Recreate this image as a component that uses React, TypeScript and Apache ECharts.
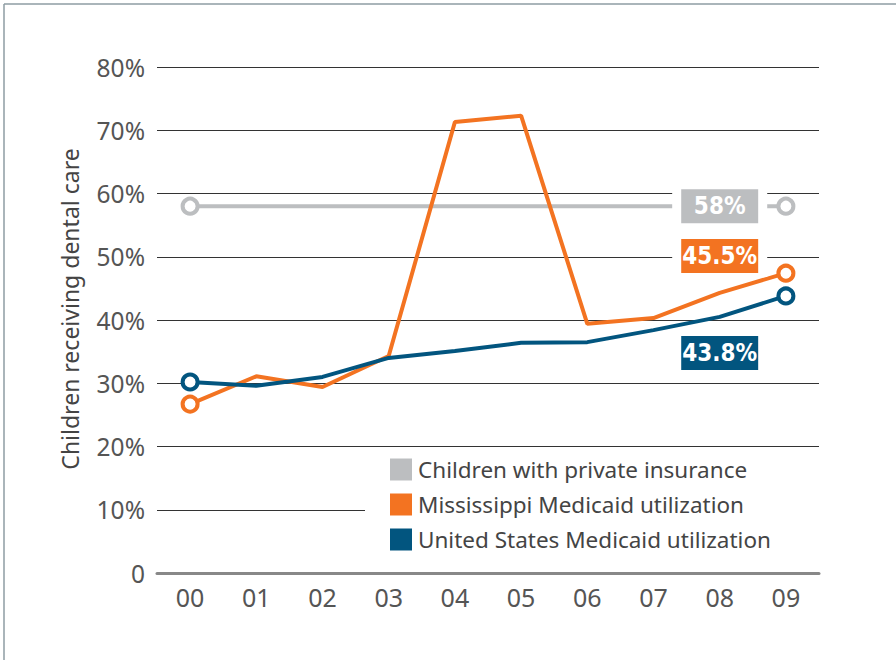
import React, { useEffect, useRef } from "react";
import * as echarts from "echarts";

const years = ["00", "01", "02", "03", "04", "05", "06", "07", "08", "09"];
const privateIns = [58, 58, 58, 58, 58, 58, 58, 58, 58, 58];
const mississippi = [26.7, 31.1, 29.4, 34.3, 71.3, 72.3, 39.4, 40.3, 44.3, 47.4];
const unitedStates = [30.2, 29.6, 31.0, 34.0, 35.1, 36.4, 36.5, 38.4, 40.5, 43.8];
const yTicks = [0, 10, 20, 30, 40, 50, 60, 70, 80];
const callouts = [
  { text: "58%", at: "08", y: 58, color: "#bcbec0" },
  { text: "45.5%", at: "08", y: 50.1, color: "#f37321" },
  { text: "43.8%", at: "08", y: 34.8, color: "#02557f" },
];

const GRAY = "#bcbec0";
const ORANGE = "#f37321";
const BLUE = "#02557f";
const FONT = "'Noto Sans', 'Open Sans', sans-serif";
const BOLD_FONT = "'Liberation Sans Narrow', 'DejaVu Sans Condensed', sans-serif";

function endpointData(vals: number[]) {
  return vals.map((v, i) => ({
    value: v,
    symbol: i === 0 || i === vals.length - 1 ? "circle" : "none",
  }));
}

function mk(c: { text: string; at: string; y: number; color: string }) {
  return {
    symbol: "rect",
    symbolSize: [86, 38],
    silent: true,
    data: [
      {
        coord: [c.at, c.y],
        itemStyle: { color: c.color, borderColor: "#ffffff", borderWidth: 6 },
        label: {
          show: true,
          position: "inside",
          formatter: c.text,
          color: "#ffffff",
          fontFamily: BOLD_FONT,
          fontWeight: "bold",
          fontSize: 24,
        },
      },
    ],
  };
}

export default function App() {
  const ref = useRef<HTMLDivElement>(null);
  useEffect(() => {
    if (!ref.current) return;
    const chart = echarts.init(ref.current, null, { renderer: "svg" });
    const lineSeries = (name: string, vals: number[], color: string, ci: number) => ({
      name,
      type: "line",
      data: endpointData(vals),
      symbolSize: 15,
      showSymbol: true,
      lineStyle: { color, width: 4 },
      itemStyle: { color: "#ffffff", borderColor: color, borderWidth: 4 },
      emphasis: { disabled: true },
      z: 3,
      markPoint: { ...mk(callouts[ci]), z: 5 },
    });
    chart.setOption({
      animation: false,
      backgroundColor: "#ffffff",
      grid: { left: 157, width: 662, top: 67, bottom: 87 },
      graphic: [
        { type: "line", shape: { x1: 4, y1: 4, x2: 896, y2: 4 }, style: { stroke: "#8e9ca3", lineWidth: 1.5 } },
        { type: "line", shape: { x1: 4, y1: 4, x2: 4, y2: 660 }, style: { stroke: "#8e9ca3", lineWidth: 1.5 } },
      ],
      legend: {
        orient: "vertical",
        left: 365,
        top: 452,
        padding: [6, 60, 8, 25],
        backgroundColor: "#ffffff",
        itemWidth: 22,
        itemHeight: 22,
        itemGap: 12,
        icon: "rect",
        selectedMode: false,
        textStyle: { fontFamily: FONT, fontSize: 22.5, color: "#444444", padding: [0, 0, 0, 1] },
        data: [
          { name: "Children with private insurance", itemStyle: { color: GRAY, borderWidth: 0 } },
          { name: "Mississippi Medicaid utilization", itemStyle: { color: ORANGE, borderWidth: 0 } },
          { name: "United States Medicaid utilization", itemStyle: { color: BLUE, borderWidth: 0 } },
        ],
        z: 4,
      },
      xAxis: {
        type: "category",
        data: years,
        boundaryGap: true,
        axisLine: { lineStyle: { color: "#888888", width: 3 } },
        axisTick: { show: false },
        axisLabel: { fontFamily: FONT, fontSize: 25, color: "#555555", margin: 11 },
      },
      yAxis: {
        type: "value",
        min: 0,
        max: 80,
        interval: 10,
        name: "Children receiving dental care",
        nameLocation: "middle",
        nameGap: 76,
        nameTextStyle: { fontFamily: FONT, fontSize: 23, color: "#444444", padding: [0, 0, 0, 22] },
        axisLine: { show: false },
        axisTick: { show: false },
        axisLabel: {
          fontFamily: FONT,
          fontSize: 24.5,
          color: "#555555",
          margin: 12,
          formatter: (v: number) => (yTicks.includes(v) ? (v === 0 ? "0" : v + "%") : ""),
        },
        splitLine: { lineStyle: { color: "#333333", width: 1 } },
      },
      series: [
        lineSeries("Children with private insurance", privateIns, GRAY, 0),
        lineSeries("Mississippi Medicaid utilization", mississippi, ORANGE, 1),
        lineSeries("United States Medicaid utilization", unitedStates, BLUE, 2),
      ],
    });
    return () => chart.dispose();
  }, []);
  return (
    <div
      ref={ref}
      style={{ position: "fixed", left: 0, top: 0, width: 896, height: 660, background: "#fff" }}
    />
  );
}
